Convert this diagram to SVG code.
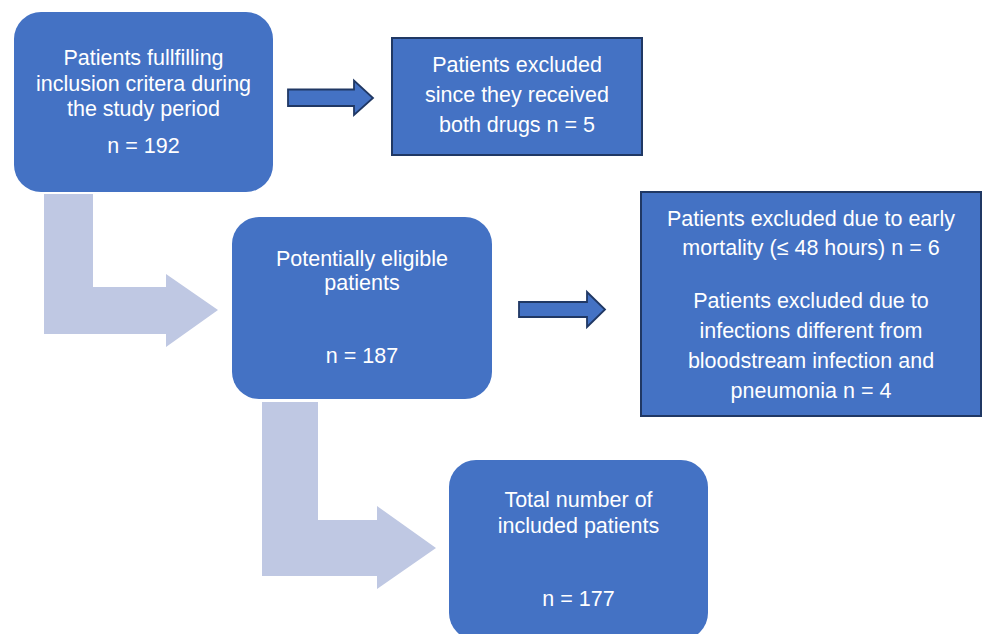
<svg xmlns="http://www.w3.org/2000/svg" width="982" height="634" viewBox="0 0 982 634">
<style>
.rbox{fill:#4472C4;}
.sbox{fill:#4472C4;stroke:#203864;stroke-width:2;}
.bigarrow{fill:#BFC8E3;}
.smallarrow{fill:#4472C4;stroke:#203864;stroke-width:1.8;stroke-linejoin:miter;}
text{font-family:"Liberation Sans",Arial,sans-serif;font-size:21.5px;fill:#FFFFFF;text-anchor:middle;}
</style>
<rect width="982" height="634" fill="#FFFFFF"/>
<g id="connectors">
<path class="bigarrow" d="M44,194 H93 V287 H166 V274 L218,310 L166,347 V334 H44 Z"/>
<path class="bigarrow" d="M262,402 H318 V520 H377 V506 L436,548 L377,589 V576 H262 Z"/>
<path class="smallarrow" d="M288,89.5 H354 V80.5 L373,98 L354,115 V106 H288 Z"/>
<path class="smallarrow" d="M519,302 H587 V292 L605,309.5 L587,327 V317 H519 Z"/>
</g>
<g id="node-screened">
<rect class="rbox" x="14" y="12" width="259" height="180" rx="27"/>
<text x="143.5" y="65">Patients fullfilling</text>
<text x="143.5" y="90.5">inclusion critera during</text>
<text x="143.5" y="116">the study period</text>
<text x="143.5" y="153">n = 192</text>
</g>
<g id="node-excluded-both">
<rect class="sbox" x="392" y="38" width="250" height="117"/>
<text x="517" y="72">Patients excluded</text>
<text x="517" y="102">since they received</text>
<text x="517" y="132">both drugs n = 5</text>
</g>
<g id="node-eligible">
<rect class="rbox" x="232" y="217" width="260" height="182" rx="27"/>
<text x="362" y="266">Potentially eligible</text>
<text x="362" y="290">patients</text>
<text x="362" y="363">n = 187</text>
</g>
<g id="node-excluded-other">
<rect class="sbox" x="641" y="192" width="340" height="224"/>
<text x="811" y="226">Patients excluded due to early</text>
<text x="811" y="255">mortality (≤ 48 hours) n = 6</text>
<text x="811" y="308">Patients excluded due to</text>
<text x="811" y="338">infections different from</text>
<text x="811" y="368">bloodstream infection and</text>
<text x="811" y="398">pneumonia n = 4</text>
</g>
<g id="node-included">
<rect class="rbox" x="449" y="460" width="259" height="180" rx="27"/>
<text x="578.5" y="507">Total number of</text>
<text x="578.5" y="532.5">included patients</text>
<text x="578.5" y="606">n = 177</text>
</g>
</svg>
